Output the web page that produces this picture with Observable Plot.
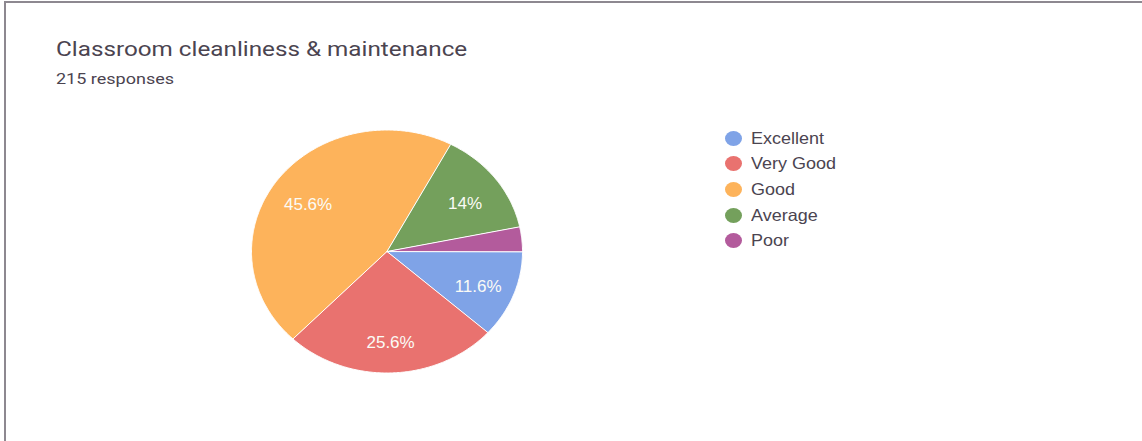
<!DOCTYPE html>
<html>
<head>
<meta charset="utf-8">
<script src="https://cdn.jsdelivr.net/npm/d3@7"></script>
<script src="https://cdn.jsdelivr.net/npm/@observablehq/plot@0.6"></script>
<style>
  html, body { margin: 0; padding: 0; background: #fff; }
  #page { position: relative; width: 1142px; height: 441px; overflow: hidden; }
  #frame { position: absolute; left: 4px; top: 1px; width: 1142px; height: 460px;
           border-top: 2px solid #8d8890; border-left: 2px solid #8d8890; box-sizing: border-box; }
  #head { position: relative; height: 100px; }
  #title { position: absolute; left: 56px; top: 37px; font-family: Roboto, sans-serif; font-size: 21px;
           color: #4b4450; white-space: nowrap; transform: scaleX(1.155); transform-origin: 0 0; }
  #subtitle { position: absolute; left: 56px; top: 70px; font-family: Roboto, sans-serif; font-size: 15px;
           color: #4b4450; white-space: nowrap; transform: scaleX(1.2); transform-origin: 0 0; }
  #legend { position: absolute; left: 725px; top: 125.5px; font-family: "Liberation Sans", Arial, sans-serif;
           font-size: 16.5px; color: #4b4450; }
  .row { height: 25.6px; display: flex; align-items: center; white-space: nowrap; }
  .row span { display: inline-block; transform: scaleX(1.09); transform-origin: 0 50%; }
  .sw { width: 17px; height: 15px; border-radius: 50%; margin-right: 9px; margin-left: 0px; }
  svg { display: block; }
</style>
</head>
<body>
<div id="page">
  <div id="frame"></div>
  <div id="head">
    <div id="title"></div>
    <div id="subtitle"></div>
  </div>
  <div id="chart"></div>
  <div id="legend"></div>
</div>
<script>
const titleText = "Classroom cleanliness & maintenance";
const subtitleText = "215 responses";
const categories = ["Excellent", "Very Good", "Good", "Average", "Poor"];
const counts = [25, 55, 98, 30, 7];
const colors = ["#7fa3e7", "#e9726f", "#fdb35b", "#74a05c", "#b35b9c"];

document.getElementById("title").textContent = titleText;
document.getElementById("subtitle").textContent = subtitleText;

const total = d3.sum(counts);
const table = categories.map((c, i) => ({label: c, value: counts[i], share: counts[i] / total}));

const arcs = d3.pie().value(d => d.value).sort(null)
  .startAngle(Math.PI / 2).endAngle(Math.PI / 2 + 2 * Math.PI)(table);

// outline points of each slice (unit circle, compass angles)
const outline = [];
for (const a of arcs) {
  outline.push({label: a.data.label, x: 0, y: 0});
  const n = Math.max(2, Math.ceil((a.endAngle - a.startAngle) / 0.01));
  for (let k = 0; k <= n; k++) {
    const t = a.startAngle + (a.endAngle - a.startAngle) * k / n;
    outline.push({label: a.data.label, x: Math.sin(t), y: Math.cos(t)});
  }
}

const labelR = 0.72;
const labels = arcs.filter(a => a.data.share >= 0.05).map(a => {
  const m = (a.startAngle + a.endAngle) / 2;
  return {x: labelR * Math.sin(m), y: labelR * Math.cos(m), text: d3.format(".3~p")(a.data.share)};
});

const plot = Plot.plot({
  width: 1142,
  height: 341,
  margin: 0,
  x: {domain: [-1, 1], range: [251, 522], axis: null},
  y: {domain: [-1, 1], range: [272.5, 29.5], axis: null},
  color: {domain: categories, range: colors},
  style: {background: "transparent", overflow: "visible"},
  marks: [
    Plot.line(outline, {x: "x", y: "y", z: "label", fill: "label", stroke: "#ffffff",
      strokeWidth: 1, curve: "linear-closed", strokeLinejoin: "round"}),
    Plot.text(labels, {x: "x", y: "y", dy: 4, text: "text", fill: "#fbfbf6",
      fontFamily: "'Liberation Sans', Arial, sans-serif", fontSize: 17})
  ]
});
document.getElementById("chart").appendChild(plot);

const color = plot.scale("color");
const legend = d3.select("#legend");
categories.forEach(c => {
  const row = legend.append("div").attr("class", "row");
  row.append("div").attr("class", "sw").style("background", color.apply(c));
  row.append("span").text(c);
});
</script>
</body>
</html>
